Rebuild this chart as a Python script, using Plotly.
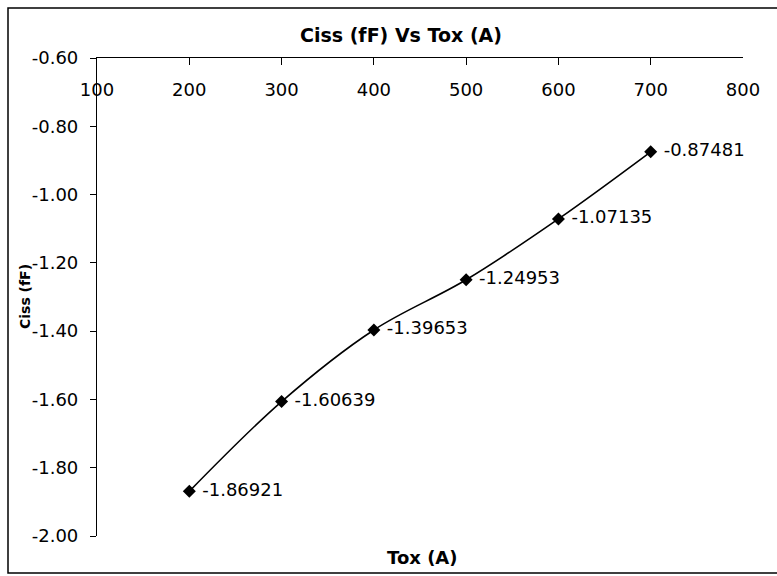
import plotly.graph_objects as go

tox = [200, 300, 400, 500, 600, 700]
ciss = [-1.86921, -1.60639, -1.39653, -1.24953, -1.07135, -0.87481]
labels = ["-1.86921", "-1.60639", "-1.39653", "-1.24953", "-1.07135", "-0.87481"]
x_ticks = [100, 200, 300, 400, 500, 600, 700, 800]
y_ticks = [-0.6, -0.8, -1.0, -1.2, -1.4, -1.6, -1.8, -2.0]
y_ticktext = ["-0.60", "-0.80", "-1.00", "-1.20", "-1.40", "-1.60", "-1.80", "-2.00"]

W, H = 777, 576
ML, MR, MT, MB = 97, 34, 58, 40
PW, PH = W - ML - MR, H - MT - MB


def px(x):
    return (x - ML) / PW


def py(y):
    return (H - MB - y) / PH


FONT = "DejaVu Sans"

fig = go.Figure()
fig.add_trace(go.Scatter(
    x=tox, y=ciss, text=[" " + t for t in labels],
    mode="lines+markers+text",
    line=dict(color="black", width=1.6, shape="spline", smoothing=1),
    marker=dict(symbol="diamond", size=10, color="black"),
    textposition="middle right",
    textfont=dict(family=FONT, size=18, color="black"),
    cliponaxis=False,
    showlegend=False,
))
# invisible helper trace on the overlay axis that draws the top tick marks
fig.add_trace(go.Scatter(
    x=tox, y=ciss, xaxis="x2", mode="markers",
    marker=dict(opacity=0), hoverinfo="skip", showlegend=False,
))

fig.update_layout(
    width=W, height=H,
    margin=dict(l=ML, r=MR, t=MT, b=MB),
    paper_bgcolor="white", plot_bgcolor="white",
    font=dict(family=FONT, size=18, color="black"),
    xaxis=dict(
        range=[100, 800], side="top",
        tickvals=x_ticks, ticktext=[str(v) for v in x_ticks],
        ticklabelposition="inside", ticklabeloverflow="allow",
        ticklabelstandoff=26,
        ticks="",
        showline=True, linecolor="black", linewidth=1.2,
        showgrid=False, zeroline=False,
        tickfont=dict(family=FONT, size=18, color="black"),
    ),
    xaxis2=dict(
        range=[100, 800], side="top", overlaying="x",
        tickvals=x_ticks, showticklabels=False,
        ticks="inside", ticklen=7, tickcolor="black", tickwidth=1.2,
        showline=False, showgrid=False, zeroline=False,
    ),
    yaxis=dict(
        range=[-2.0, -0.6],
        tickvals=y_ticks, ticktext=y_ticktext,
        ticklabeloverflow="allow", ticklabelstandoff=8,
        ticks="outside", ticklen=6, tickcolor="black", tickwidth=1.2,
        showline=True, linecolor="black", linewidth=1.2,
        showgrid=False, zeroline=False,
        tickfont=dict(family=FONT, size=18, color="black"),
    ),
    shapes=[
        dict(type="rect", xref="paper", yref="paper",
             x0=px(8), x1=px(790), y0=py(573), y1=py(8),
             line=dict(color="black", width=1.5), layer="below"),
    ],
    annotations=[
        dict(text="<b>Ciss (fF) Vs Tox (A)</b>", xref="paper", yref="paper",
             x=px(401), y=py(35), xanchor="center", yanchor="middle",
             showarrow=False, font=dict(family=FONT, size=19, color="black")),
        dict(text="<b>Tox (A)</b>", xref="paper", yref="paper",
             x=px(422), y=py(557), xanchor="center", yanchor="middle",
             showarrow=False, font=dict(family=FONT, size=18, color="black")),
        dict(text="<b>Ciss (fF)</b>", xref="paper", yref="paper",
             x=px(25), y=py(297), xanchor="center", yanchor="middle",
             textangle=-90,
             showarrow=False, font=dict(family=FONT, size=14, color="black")),
    ],
)

fig.write_html("out.html")
